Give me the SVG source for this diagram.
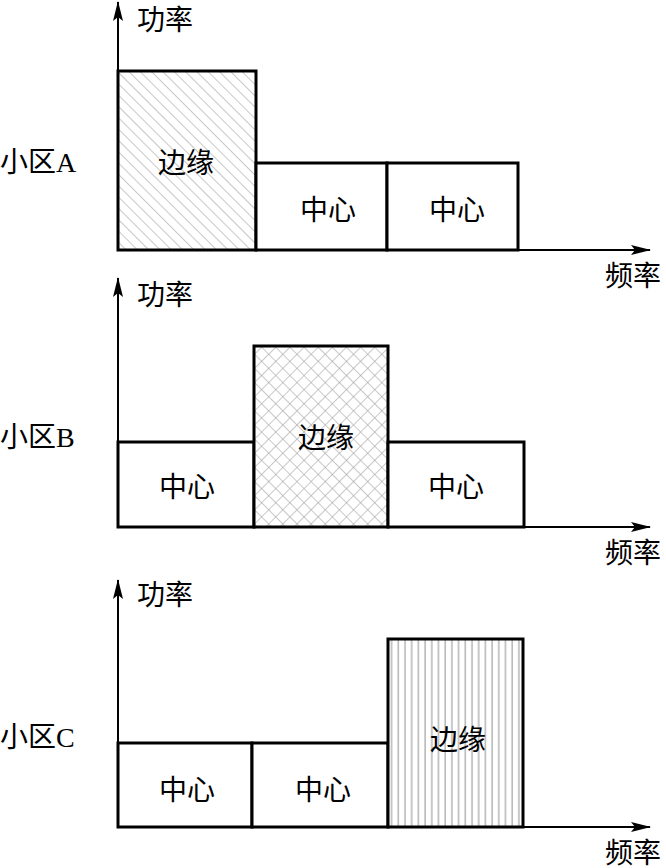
<svg xmlns="http://www.w3.org/2000/svg" width="666" height="868" viewBox="0 0 666 868">
<style>
text{font-family:"Liberation Serif","Noto Sans CJK SC",serif;font-size:28px;fill:#000;dominant-baseline:central}
.c{text-anchor:middle}
.box{stroke:#000;stroke-width:3;fill:#fff}
.axis{stroke:#000;stroke-width:2;fill:none}
.hd{fill:url(#hd)}
.hx{fill:url(#hx)}
.hv{fill:url(#hv)}
</style>
<defs>
<pattern id="hd" patternUnits="userSpaceOnUse" width="8" height="8" patternTransform="rotate(-45)">
<rect width="8" height="8" fill="#fff"/><line x1="0" y1="0" x2="0" y2="8" stroke="#aaa" stroke-width="1.3"/>
</pattern>
<pattern id="hx" patternUnits="userSpaceOnUse" width="10" height="10" patternTransform="rotate(45)">
<rect width="10" height="10" fill="#fff"/><line x1="0" y1="0" x2="0" y2="10" stroke="#aaa" stroke-width="1.3"/><line x1="0" y1="0" x2="10" y2="0" stroke="#aaa" stroke-width="1.3"/>
</pattern>
<pattern id="hv" patternUnits="userSpaceOnUse" width="6.7" height="10">
<rect width="6.7" height="10" fill="#fff"/><line x1="3" y1="0" x2="3" y2="10" stroke="#aaa" stroke-width="1.3"/>
</pattern>
<marker id="ah" viewBox="0 0 20 10" refX="19" refY="5" markerWidth="20" markerHeight="10" markerUnits="userSpaceOnUse" orient="auto">
<path d="M0,0 L20,5 L0,10 L4,5 Z" fill="#000"/>
</marker>
</defs>

<g id="connectors">
<line class="axis" x1="118" y1="250" x2="118" y2="2" marker-end="url(#ah)"/>
<line class="axis" x1="118" y1="250" x2="650" y2="250" marker-end="url(#ah)"/>
<line class="axis" x1="118" y1="527" x2="118" y2="278" marker-end="url(#ah)"/>
<line class="axis" x1="118" y1="527" x2="650" y2="527" marker-end="url(#ah)"/>
<line class="axis" x1="118" y1="827" x2="118" y2="580" marker-end="url(#ah)"/>
<line class="axis" x1="118" y1="827" x2="650" y2="827" marker-end="url(#ah)"/>
</g>

<g id="panelA">
<text x="0" y="162">小区A</text>
<text x="137" y="20">功率</text>
<text x="605" y="276">频率</text>
<g id="A-edge"><rect class="box hd" x="118" y="71" width="138" height="179"/><text class="c" x="186" y="163">边缘</text></g>
<g id="A-center1"><rect class="box" x="256" y="163" width="131" height="87"/><text class="c" x="328" y="210">中心</text></g>
<g id="A-center2"><rect class="box" x="387" y="163" width="131" height="87"/><text class="c" x="457" y="210">中心</text></g>
</g>

<g id="panelB">
<text x="0" y="437">小区B</text>
<text x="137" y="295">功率</text>
<text x="605" y="553">频率</text>
<g id="B-center1"><rect class="box" x="118" y="442" width="136" height="85"/><text class="c" x="187" y="487">中心</text></g>
<g id="B-edge"><rect class="box hx" x="254" y="346" width="134" height="181"/><text class="c" x="326" y="438">边缘</text></g>
<g id="B-center2"><rect class="box" x="388" y="442" width="136" height="85"/><text class="c" x="456" y="487">中心</text></g>
</g>

<g id="panelC">
<text x="0" y="737">小区C</text>
<text x="137" y="595">功率</text>
<text x="605" y="853">频率</text>
<g id="C-center1"><rect class="box" x="118" y="743" width="134" height="84"/><text class="c" x="187" y="790">中心</text></g>
<g id="C-center2"><rect class="box" x="252" y="743" width="136" height="84"/><text class="c" x="323" y="790">中心</text></g>
<g id="C-edge"><rect class="box hv" x="388" y="639" width="135" height="188"/><text class="c" x="458" y="740">边缘</text></g>
</g>
</svg>
